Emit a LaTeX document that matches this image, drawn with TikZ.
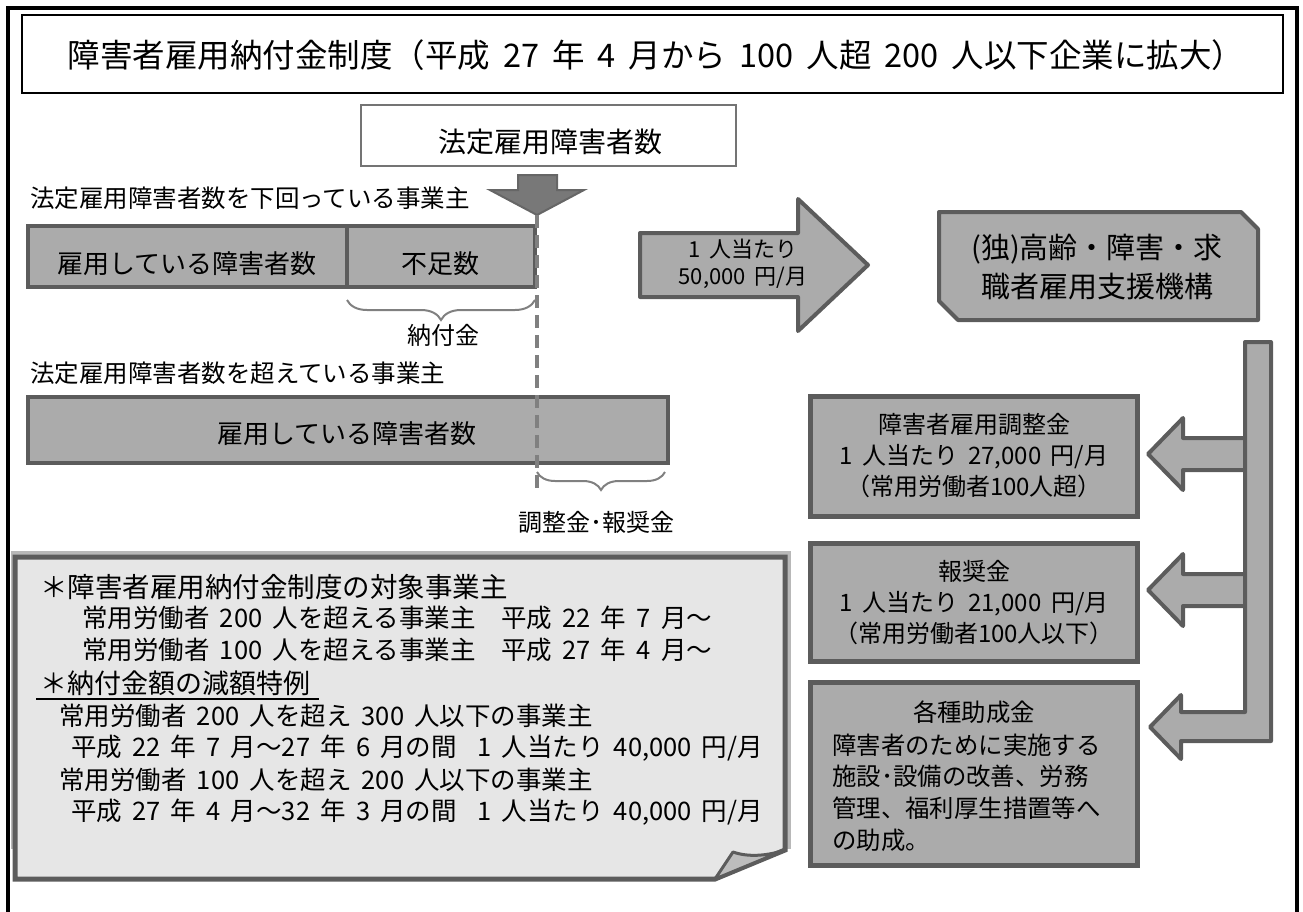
\documentclass[tikz,border=0pt]{standalone}
\usepackage{fontspec}
\setmainfont{Noto Sans CJK JP}
\usetikzlibrary{decorations.pathreplacing}
\newcommand\fsz[2]{\fontsize{#1}{#2}\selectfont}
\newcommand\sps{\hspace{0.4em}}
\definecolor{boxfill}{HTML}{ABABAB}
\definecolor{boxline}{HTML}{5C5C5C}
\definecolor{notefill}{HTML}{E6E6E6}
\definecolor{dashcol}{HTML}{808080}
\definecolor{darrow}{HTML}{787878}
\definecolor{flapfill}{HTML}{BDBDBD}
\definecolor{halftone}{HTML}{B8B8B8}
\begin{document}
\begin{tikzpicture}[x=1pt,y=-1pt,
  gshape/.style={fill=boxfill,draw=boxline,line width=4pt,line join=round},
  barbox/.style={fill=boxfill,draw=boxline,line width=4pt,inner sep=0pt},
  rbox/.style={fill=boxfill,draw=boxline,line width=5pt,inner sep=0pt,minimum width=327pt},
  lbl/.style={inner sep=0pt,text=black},
  bracestyle/.style={draw=dashcol,line width=2pt,decorate},
]
\useasboundingbox (0,0) rectangle (1303,911);
% outer frame
\draw[line width=4pt] (8,920) -- (8,7.5) -- (1297,7.5) -- (1297,920);
% title
\node[draw=black,line width=1.3pt,minimum width=1261pt,minimum height=78pt,inner sep=0pt] (titlebox) at (652.5,54) {};
\node[lbl,font=\fsz{32.5}{32.5}] (title) at (656,55) {障害者雇用納付金制度（平成\sps{}27\sps{}年\sps{}4\sps{}月から\sps{}100\sps{}人超\sps{}200\sps{}人以下企業に拡大）};
% legal number box
\node[draw=boxline!85,line width=2.5pt,fill=white,minimum width=375pt,minimum height=61pt,inner sep=0pt] (lawbox) at (548.5,135.5) {};
\node[lbl,font=\fsz{28}{28}] (lawtxt) at (550,142) {法定雇用障害者数};
% down arrow
\draw[fill=darrow,draw=darrow!85!black,line width=2pt,line join=miter] (518,175) -- (557,175) -- (557,190) -- (584,190) -- (537,215) -- (490,190) -- (518,190) -- cycle;
\coordinate (dtop) at (537,215);
\coordinate (dbot) at (537,492);
% captions
\node[lbl,font=\fsz{24.5}{24.5},anchor=west] (under) at (30,198) {法定雇用障害者数を下回っている事業主};
\node[lbl,font=\fsz{24.5}{24.5},anchor=west] (over) at (30,373) {法定雇用障害者数を超えている事業主};
% upper bar
\node[barbox,minimum width=319pt,minimum height=61pt] (emp1) at (187.5,256.5) {};
\node[barbox,minimum width=188pt,minimum height=61pt] (short) at (441,256.5) {};
\node[lbl,font=\fsz{26}{26}] (emp1txt) at (187,264) {雇用している障害者数};
\node[lbl,font=\fsz{26}{26}] (shorttxt) at (440,264) {不足数};
% lower bar
\node[barbox,minimum width=640pt,minimum height=66pt] (emp2) at (348,430) {};
\node[lbl,font=\fsz{26}{26}] (emp2txt) at (347,434) {雇用している障害者数};
% dashed line
\draw[dashcol,line width=4pt,dash pattern=on 13pt off 7pt] (dtop) -- (dbot);
% braces
\coordinate (b1l) at (347,300);
\coordinate (b1r) at (535,300);
\coordinate (b2l) at (537,472);
\coordinate (b2r) at (665,472);
\draw[bracestyle,decoration={brace,mirror,amplitude=20pt}] (b1l) -- (b1r);
\draw[bracestyle,decoration={brace,mirror,amplitude=18pt}] (b2l) -- (b2r);
\node[lbl,font=\fsz{24}{24}] (levy) at (443,335) {納付金};
\node[lbl,font=\fsz{24}{24}] (adjlbl) at (596,522) {調整金･報奨金};
% right arrow
\draw[gshape] (640,233) -- (798,233) -- (798,199) -- (868,265) -- (798,331) -- (798,297) -- (640,297) -- cycle;
\node[lbl,font=\fsz{22}{27},align=center] (rate) at (743,263.5) {1\sps{}人当たり\\50,000\sps{}円/月};
% organisation box
\draw[gshape] (939,212) -- (1241,212) -- (1258,229) -- (1258,320) -- (958,320) -- (939,301) -- cycle;
\node[lbl,font=\fsz{29}{39},align=center] (org) at (1097,267.5) {(独)高齢・障害・求\\職者雇用支援機構};
% left arrows and bar
\draw[gshape] (1245,438) -- (1183,438) -- (1183,418) -- (1148,454) -- (1183,490) -- (1183,470) -- (1245,470) -- cycle;
\draw[gshape] (1245,574) -- (1183,574) -- (1183,554) -- (1148,590) -- (1183,626) -- (1183,606) -- (1245,606) -- cycle;
\draw[gshape] (1245,342) -- (1271,342) -- (1271,741) -- (1181,741) -- (1181,759) -- (1150,727) -- (1181,695) -- (1181,712) -- (1245,712) -- cycle;
% right boxes
\node[rbox,minimum height=120pt] (adj) at (974,456.5) {};
\node[lbl,font=\fsz{24}{31},align=center] (adjtxt) at (974,456) {障害者雇用調整金\\1\sps{}人当たり\sps{}27,000\sps{}円/月\\（常用労働者100人超）};
\node[rbox,minimum height=118pt] (rew) at (974,602.5) {};
\node[lbl,font=\fsz{24}{31},align=center] (rewtxt) at (974,603) {報奨金\\1\sps{}人当たり\sps{}21,000\sps{}円/月\\（常用労働者100人以下）};
\node[rbox,minimum height=183pt] (sub) at (974,774) {};
\node[lbl,font=\fsz{24.4}{24.4}] (subt) at (974,712) {各種助成金};
\node[lbl,font=\fsz{24.4}{31.7},align=left,anchor=west] (subd) at (832,792.5) {障害者のために実施する\\施設･設備の改善、労務\\管理、福利厚生措置等へ\\の助成。};
% note box
\fill[halftone] (11,551) rectangle (791,849);
\draw[fill=notefill,draw=boxline,line width=5pt,line join=miter] (15,557) -- (785,557) -- (785,850) -- (715,879) -- (15,879) -- cycle;
\draw[fill=flapfill,draw=boxline,line width=3pt,line join=round] (715,879) -- (733,852) .. controls (750,858) and (770,855) .. (785,850) -- cycle;
\node[lbl,font=\fsz{27.5}{27.5},anchor=west] (n1) at (40,587) {＊障害者雇用納付金制度の対象事業主};
\node[lbl,font=\fsz{25.5}{25.5},anchor=west] (n2) at (82,618) {常用労働者\sps{}200\sps{}人を超える事業主\hspace{1em}平成\sps{}22\sps{}年\sps{}7\sps{}月～};
\node[lbl,font=\fsz{25.5}{25.5},anchor=west] (n3) at (82,650) {常用労働者\sps{}100\sps{}人を超える事業主\hspace{1em}平成\sps{}27\sps{}年\sps{}4\sps{}月～};
\node[lbl,font=\fsz{27}{27},anchor=west] (n4) at (40,683) {＊納付金額の減額特例};
\draw[line width=1.5pt] (36,699) -- (319,699);
\node[lbl,font=\fsz{25.5}{25.5},anchor=west] (n5) at (59,716) {常用労働者\sps{}200\sps{}人を超え\sps{}300\sps{}人以下の事業主};
\node[lbl,font=\fsz{25.5}{25.5},anchor=west] (n6) at (71,748) {平成\sps{}22\sps{}年\sps{}7\sps{}月～27\sps{}年\sps{}6\sps{}月の間\hspace{0.8em}1\sps{}人当たり\sps{}40,000\sps{}円/月};
\node[lbl,font=\fsz{25.5}{25.5},anchor=west] (n7) at (59,780) {常用労働者\sps{}100\sps{}人を超え\sps{}200\sps{}人以下の事業主};
\node[lbl,font=\fsz{25.5}{25.5},anchor=west] (n8) at (71,812) {平成\sps{}27\sps{}年\sps{}4\sps{}月～32\sps{}年\sps{}3\sps{}月の間\hspace{0.8em}1\sps{}人当たり\sps{}40,000\sps{}円/月};
\end{tikzpicture}
\end{document}
